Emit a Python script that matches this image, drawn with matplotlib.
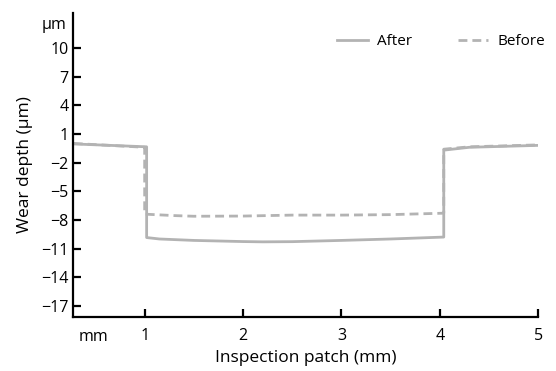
import matplotlib
matplotlib.use("Agg")
import matplotlib.pyplot as plt
import matplotlib.transforms as mtransforms

plt.rcParams['font.family'] = ['Open Sans', 'DejaVu Sans']

# wear profile (x in mm, y in um)
after_x = [0.28, 1.02, 1.02, 1.15, 1.5, 2.0, 2.2, 2.5, 3.0, 3.5, 4.04, 4.04, 4.3, 5.0]
after_y = [-0.05, -0.35, -9.85, -10.0, -10.15, -10.27, -10.3, -10.28, -10.15, -10.0, -9.8, -0.7, -0.4, -0.2]

before_x = [0.28, 1.0, 1.0, 1.3, 1.5, 2.0, 2.5, 3.0, 3.5, 4.04, 4.04, 4.3, 5.0]
before_y = [0.0, -0.4, -7.4, -7.55, -7.62, -7.6, -7.5, -7.5, -7.45, -7.3, -0.6, -0.35, -0.15]

y_ticks = [10, 7, 4, 1, -2, -5, -8, -11, -14, -17]
x_ticks = [1, 2, 3, 4, 5]

line_color = "#b3b3b3"

fig = plt.figure(figsize=(5.56, 3.71), dpi=100)
ax = fig.add_axes([0.131, 0.146, 0.837, 0.819])

ax.plot(after_x, after_y, '-', color=line_color, lw=2.0, label="After")
ax.plot(before_x, before_y, '--', color=line_color, lw=2.0, dashes=(3.2, 1.8), label="Before")

ax.set_xlim(0.27, 5.0)
ax.set_ylim(-18.15, 13.66)

ax.spines['top'].set_visible(False)
ax.spines['right'].set_visible(False)
for s in ['left', 'bottom']:
    ax.spines[s].set_linewidth(1.6)

ax.set_yticks(y_ticks)
ax.set_yticklabels(["\u2212" + str(-v) if v < 0 else str(v) for v in y_ticks])
ax.set_xticks(x_ticks)
ax.set_xticklabels([str(v) for v in x_ticks])
ax.tick_params(axis='both', direction='in', length=6, width=1.6, labelsize=11.5, colors='black')
ax.tick_params(axis='y', pad=3)
ax.tick_params(axis='x', pad=8)

# unit labels at the ends of the axes
trans_y = mtransforms.blended_transform_factory(ax.transAxes, ax.transData)
ax.text(-0.013, 12.4, "\u00b5m", transform=trans_y, ha='right', va='center', fontsize=11.5)
trans_x = mtransforms.blended_transform_factory(ax.transData, ax.transAxes)
ax.text(0.48, -0.04, "mm", transform=trans_x, ha='center', va='top', fontsize=11.5)

ax.set_ylabel("Wear depth (\u00b5m)", fontsize=12.5, labelpad=6)
ax.set_xlabel("Inspection patch (mm)", fontsize=12.5, labelpad=4)

ax.legend(loc='upper right', ncol=2, frameon=False, fontsize=11,
          handlelength=2.0, handletextpad=0.6, columnspacing=3.0,
          bbox_to_anchor=(1.045, 0.975))

fig.savefig("out.png", dpi=100)
